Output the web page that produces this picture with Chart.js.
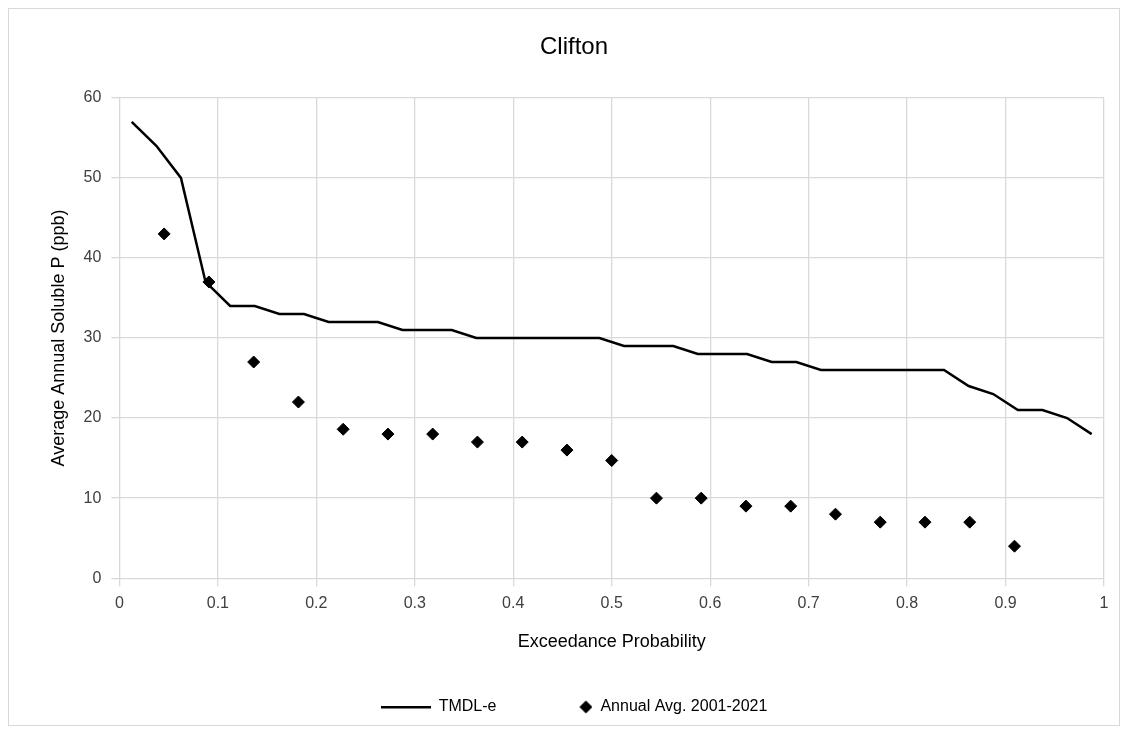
<!DOCTYPE html>
<html>
<head>
<meta charset="UTF-8">
<script src="https://cdn.jsdelivr.net/npm/chart.js"></script>
<style>
  body { margin: 0; background: #fff; }
  .box { position: absolute; left: 8px; top: 8px; width: 1112px; height: 718px; border: 1px solid #d9d9d9; box-sizing: border-box; }
</style>
</head>
<body>
<div class="box"><canvas id="c" width="1110" height="716"></canvas></div>
<script>
// TMDL-e curve, 40 points at (i + 0.5) / 40
const tmdlValues = [57, 54, 50, 37, 34, 34, 33, 33, 32, 32, 32, 31, 31, 31, 30, 30, 30, 30, 30, 30,
                    29, 29, 29, 28, 28, 28, 27, 27, 26, 26, 26, 26, 26, 26, 24, 23, 21, 21, 20, 18];
const tmdlX = tmdlValues.map((v, i) => (i + 0.5) / 40);
// annual averages, plotted at i / 22
const annualValues = [43, 37, 27, 22, 18.6, 18, 18, 17, 17, 16, 14.7, 10, 10, 9, 9, 8, 7, 7, 7, 4];
const annualX = annualValues.map((v, i) => (i + 1) / 22);

const font = { family: 'Liberation Sans, Arial, sans-serif', size: 16 };
Chart.defaults.font.family = font.family;
Chart.defaults.color = '#404040';

// legend swatches, both 50 wide
const lineSwatch = document.createElement('canvas');
lineSwatch.width = 50; lineSwatch.height = 14;
let g = lineSwatch.getContext('2d');
g.fillStyle = '#000';
g.fillRect(0, 6, 50, 2.5);

const diamondSwatch = document.createElement('canvas');
diamondSwatch.width = 50; diamondSwatch.height = 14;
g = diamondSwatch.getContext('2d');
g.fillStyle = '#000';
g.beginPath();
g.moveTo(43.5, 0.5); g.lineTo(50, 7); g.lineTo(43.5, 13.5); g.lineTo(37, 7);
g.closePath(); g.fill();

new Chart(document.getElementById('c'), {
  type: 'scatter',
  data: {
    datasets: [
      {
        label: 'TMDL-e',
        type: 'line',
        data: tmdlX.map((x, i) => ({ x: x, y: tmdlValues[i] })),
        borderColor: '#000',
        backgroundColor: '#000',
        borderWidth: 2.5,
        pointRadius: 0,
        tension: 0
      },
      {
        label: 'Annual Avg. 2001-2021',
        data: annualX.map((x, i) => ({ x: x, y: annualValues[i] })),
        pointStyle: 'rectRot',
        pointRadius: 6,
        backgroundColor: '#000',
        borderColor: '#000'
      }
    ]
  },
  options: {
    responsive: false,
    animation: false,
    layout: { padding: { left: 35, right: 15, top: 10, bottom: 0 } },
    plugins: {
      title: { display: true, text: 'Clifton', color: '#000', font: { size: 24, weight: 'normal' }, padding: { top: 14, bottom: 36 } },
      legend: {
        position: 'bottom',
        labels: {
          color: '#000',
          font: { size: 16 },
          usePointStyle: true,
          pointStyleWidth: 50,
          boxHeight: 14,
          padding: 46,
          generateLabels: chart => chart.data.datasets.map((d, i) => ({
            text: d.label,
            datasetIndex: i,
            fillStyle: '#000',
            strokeStyle: '#000',
            lineWidth: 1,
            pointStyle: i === 0 ? lineSwatch : diamondSwatch
          }))
        }
      }
    },
    scales: {
      x: {
        type: 'linear', min: 0, max: 1,
        ticks: { stepSize: 0.1, color: '#404040', font: font, padding: 8, callback: v => String(Math.round(v * 10) / 10) },
        grid: { color: '#d9d9d9', lineWidth: 1.3 },
        border: { color: '#d9d9d9' },
        title: { display: true, text: 'Exceedance Probability', color: '#000', font: { size: 18 }, padding: { top: 10, bottom: 0 } }
      },
      y: {
        min: 0, max: 60,
        ticks: { stepSize: 10, color: '#404040', font: font, padding: 10 },
        grid: { color: '#d9d9d9', lineWidth: 1.3 },
        border: { display: false },
        title: { display: true, text: 'Average Annual Soluble P (ppb)', color: '#000', font: { size: 18 } }
      }
    }
  }
});
</script>
</body>
</html>
